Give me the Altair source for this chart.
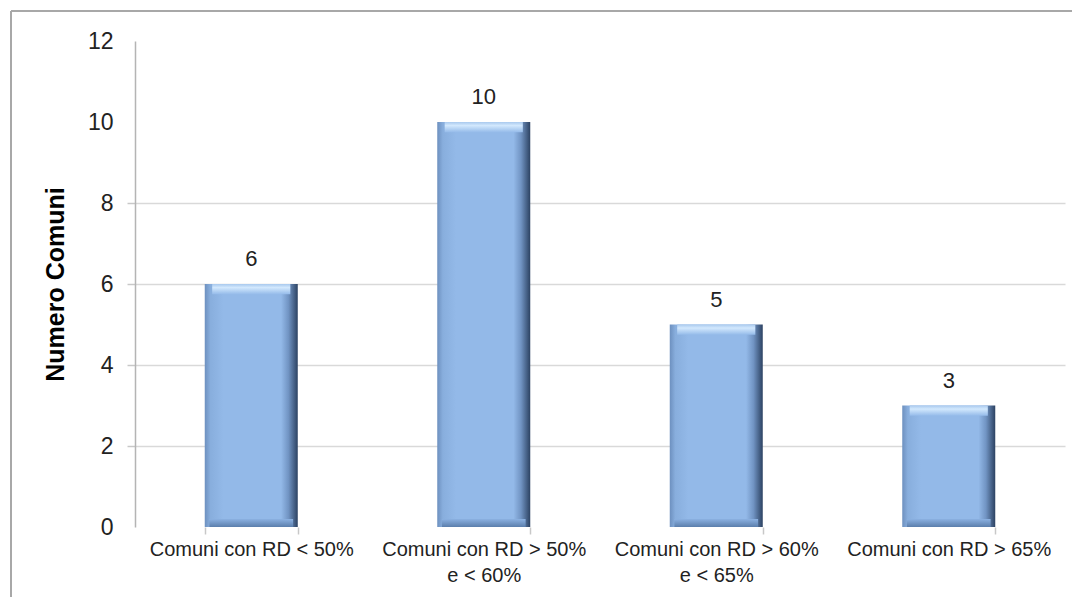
import altair as alt
import pandas as pd

categories = [
    "Comuni con RD < 50%",
    "Comuni con RD > 50%|e < 60%",
    "Comuni con RD > 60%|e < 65%",
    "Comuni con RD > 65%",
]
values = [6, 10, 5, 3]
y_ticks = [0, 2, 4, 6, 8, 10, 12]
y_title = "Numero Comuni"

df = pd.DataFrame({"cat": categories, "val": values})

FONT = "Liberation Sans"

x_enc = alt.X(
    "cat:N",
    sort=None,
    scale=alt.Scale(paddingInner=0.6, paddingOuter=0.3),
    axis=alt.Axis(
        title=None,
        domain=False,
        ticks=True,
        tickBand="extent",
        tickSize=7,
        tickColor="#c8c8c8",
        tickWidth=1.5,
        labelAngle=0,
        labelFont=FONT,
        labelFontSize=20,
        labelColor="#222222",
        labelPadding=5,
        labelLimit=400,
        labelLineHeight=26,
        labelExpr="split(datum.label, '|')",
    ),
)

hide_test = "datum.value > 8 || datum.value == 0"

y_enc = alt.Y(
    "val:Q",
    scale=alt.Scale(domain=[0, 12], nice=False),
    axis=alt.Axis(
        values=y_ticks,
        title=y_title,
        titleFont=FONT,
        titleFontSize=25,
        titleFontWeight="bold",
        titleColor="#000000",
        titleAngle=270,
        titleX=-80,
        titleY=243,
        titleAlign="center",
        titleBaseline="middle",
        labelFont=FONT,
        labelFontSize=23,
        labelColor="#222222",
        labelPadding=14,
        domain=True,
        domainColor="#b4b4b4",
        domainWidth=1.5,
        grid=True,
        gridColor="#d9d9d9",
        gridWidth=1.5,
        gridOpacity={"condition": {"test": hide_test, "value": 0}, "value": 1},
        ticks=True,
        tickSize=8,
        tickColor="#c8c8c8",
        tickWidth=1.5,
        tickOpacity={"condition": {"test": hide_test, "value": 0}, "value": 1},
    ),
)

base = alt.Chart(df).encode(x=x_enc)

side_grad = alt.Gradient(
    gradient="linear",
    x1=0, x2=1, y1=0, y2=0,
    stops=[
        alt.GradientStop(color="#6d90bf", offset=0),
        alt.GradientStop(color="#88aedd", offset=0.06),
        alt.GradientStop(color="#93b9e8", offset=0.2),
        alt.GradientStop(color="#93b9e8", offset=0.82),
        alt.GradientStop(color="#7194c3", offset=0.9),
        alt.GradientStop(color="#2c4262", offset=1),
    ],
)

bars = base.mark_bar(color=side_grad).encode(y=y_enc)

top_grad = alt.Gradient(
    gradient="linear",
    x1=0, x2=0, y1=0, y2=1,
    stops=[
        alt.GradientStop(color="#a9c9ee", offset=0),
        alt.GradientStop(color="#d2e8fd", offset=0.35),
        alt.GradientStop(color="#96bcea", offset=1),
    ],
)

cap = (
    base.transform_calculate(cap_lo="datum.val - 0.25")
    .mark_bar(color=top_grad, width=alt.RelativeBandSize(0.84))
    .encode(y=alt.Y("val:Q"), y2="cap_lo:Q")
)

bot_grad = alt.Gradient(
    gradient="linear",
    x1=0, x2=0, y1=0, y2=1,
    stops=[
        alt.GradientStop(color="#8cb2e2", offset=0),
        alt.GradientStop(color="#5b7eac", offset=1),
    ],
)

bottom = (
    base.transform_calculate(b_hi="0.2", b_lo="0")
    .mark_bar(color=bot_grad, width=alt.RelativeBandSize(0.9))
    .encode(y=alt.Y("b_hi:Q"), y2="b_lo:Q")
)

labels = base.mark_text(
    dy=-25, font=FONT, fontSize=22, color="#222222", baseline="middle"
).encode(y=alt.Y("val:Q"), text=alt.Text("val:Q"))

frame_df = pd.DataFrame({"k": [0]})
left_border = alt.Chart(frame_df).mark_rule(color="#a8a8a8", strokeWidth=2).encode(
    x=alt.value(-124), y=alt.value(-30), y2=alt.value(600)
)
top_border = alt.Chart(frame_df).mark_rule(color="#a8a8a8", strokeWidth=2).encode(
    x=alt.value(-124), x2=alt.value(1000), y=alt.value(-30)
)

chart = (
    alt.layer(bars, cap, bottom, labels, left_border, top_border)
    .properties(
        width=930,
        height=486,
        autosize=alt.AutoSizeParams(type="none"),
        padding={"left": 127, "top": 33, "right": 7, "bottom": 70},
        background="white",
    )
    .configure_view(stroke=None)
)

chart.save("out.html", embed_options={"renderer": "svg", "actions": False})
